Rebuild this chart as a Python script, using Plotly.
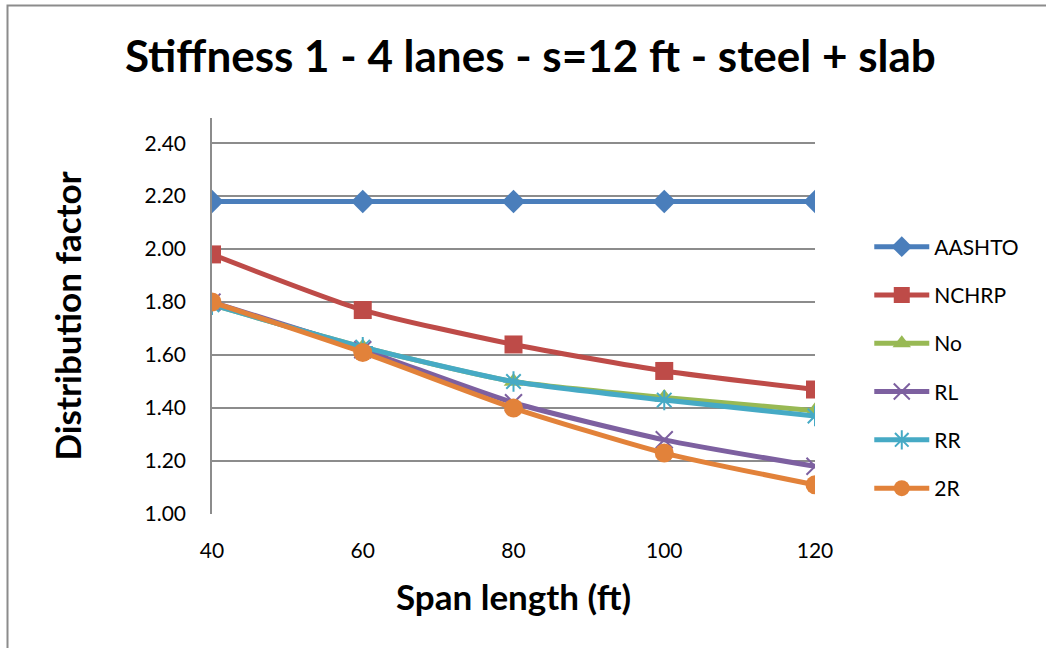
import plotly.graph_objects as go

# Span lengths (ft)
span = [40, 60, 80, 100, 120]

# Distribution factors for each method
aashto = [2.18, 2.18, 2.18, 2.18, 2.18]
nchrp = [1.98, 1.77, 1.64, 1.54, 1.47]
no_r = [1.79, 1.63, 1.50, 1.44, 1.39]
rl = [1.80, 1.62, 1.42, 1.28, 1.18]
rr = [1.79, 1.63, 1.50, 1.43, 1.37]
two_r = [1.80, 1.61, 1.40, 1.23, 1.11]

y_ticks = [1.00, 1.20, 1.40, 1.60, 1.80, 2.00, 2.20, 2.40]
x_ticks = [40, 60, 80, 100, 120]

series = [
    ("AASHTO", aashto, "#4A7EBB", dict(symbol="diamond", size=18)),
    ("NCHRP", nchrp, "#BE4B48", dict(symbol="square", size=18)),
    ("No", no_r, "#98B954", dict(symbol="triangle-up", size=17)),
    ("RL", rl, "#7D60A0", dict(symbol="x-thin-open", size=17, line=dict(width=2, color="#7D60A0"))),
    ("RR", rr, "#46AAC5", dict(symbol="asterisk-open", size=17, line=dict(width=2, color="#46AAC5"))),
    ("2R", two_r, "#E2823A", dict(symbol="circle", size=19)),
]

FONT = "Lato"

fig = go.Figure()
for i, (name, vals, color, mk) in enumerate(series):
    mk = dict(mk)
    mk.setdefault("color", color)
    fig.add_trace(go.Scatter(
        x=span, y=vals, name=name, mode="lines+markers",
        line=dict(color=color, width=5, shape="spline", smoothing=0.6),
        marker=mk, legendgroup=f"g{i}",
    ))

fig.update_layout(
    width=1046, height=648,
    margin=dict(l=212, r=231, t=118, b=134),
    paper_bgcolor="white", plot_bgcolor="white",
    font=dict(family=FONT, color="black", size=20),
    title=dict(
        text="<b>Stiffness 1 - 4 lanes - s=12 ft - steel + slab</b>",
        font=dict(family=FONT, size=44, color="black"),
        x=0.507, xanchor="center", y=0.913, yanchor="middle",
    ),
    xaxis=dict(
        range=[40, 120], tickvals=x_ticks, ticktext=[str(v) for v in x_ticks],
        showgrid=False, zeroline=False, showline=False, ticks="",
        tickfont=dict(size=21), ticklabelstandoff=22,
        title=dict(text="<b>Span length (ft)</b>", font=dict(size=35), standoff=24),
    ),
    yaxis=dict(
        range=[1.0, 2.495], tickvals=y_ticks, ticktext=[f"{v:.2f}" for v in y_ticks],
        showgrid=True, gridcolor="#8C8C8C", gridwidth=1.6,
        zeroline=False, showline=True, linecolor="#8C8C8C", linewidth=1.6,
        ticks="", tickfont=dict(size=21), ticklabelstandoff=20,
        title=dict(text="<b>Distribution factor</b>", font=dict(size=35), standoff=52),
    ),
    legend=dict(
        x=1.09, xanchor="left", y=0.37, yanchor="middle",
        font=dict(size=21), tracegroupgap=18, itemwidth=55,
        bgcolor="rgba(0,0,0,0)",
    ),
    shapes=[
        dict(type="rect", xref="paper", yref="paper",
             x0=(7.5 - 212) / 603, x1=1.6, y0=-0.5, y1=(514 - 5.5) / 396,
             line=dict(color="#8C8C8C", width=2), layer="below"),
    ],
)

fig.write_html("out.html")
